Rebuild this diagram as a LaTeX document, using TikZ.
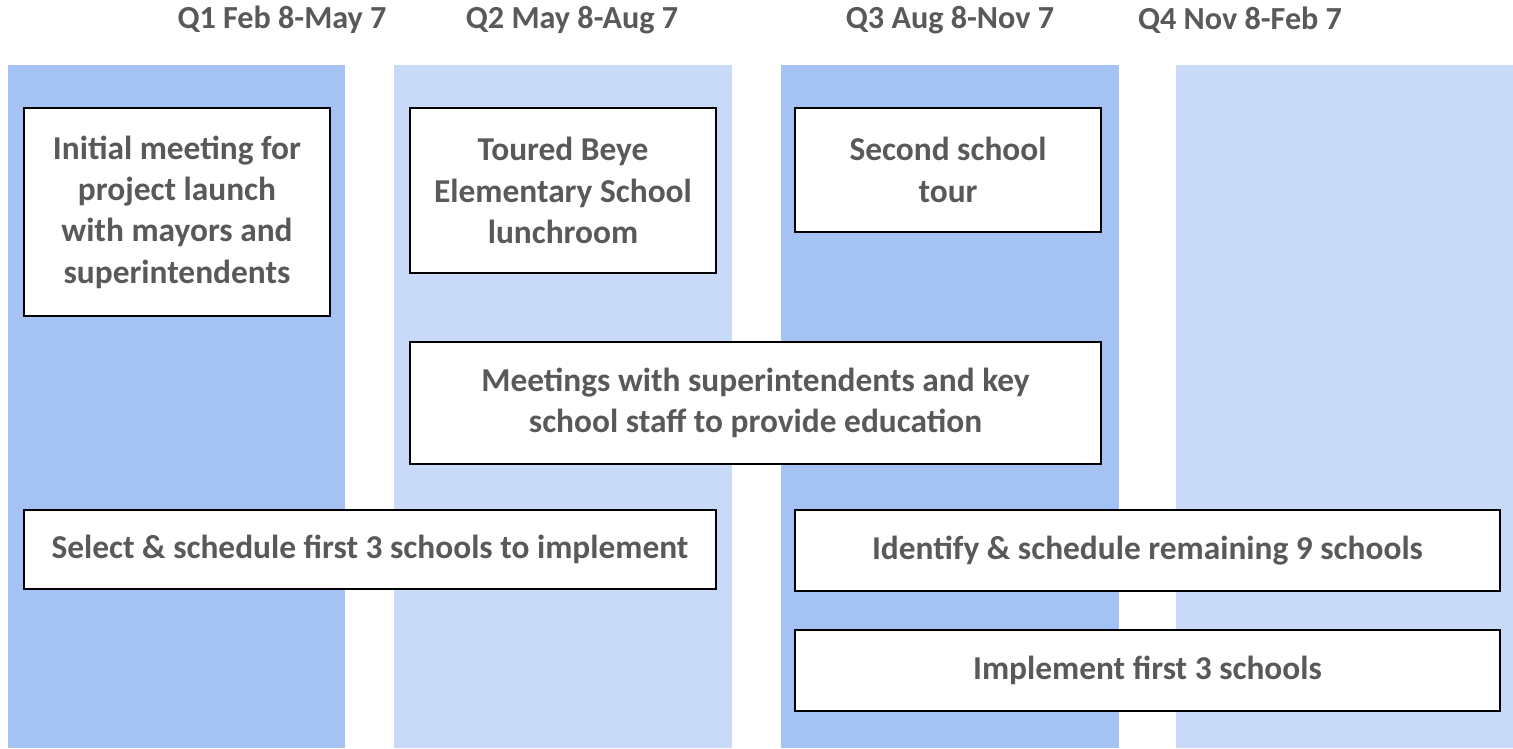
\documentclass[tikz,border=0pt]{standalone}
\usepackage{fontspec}
\setmainfont{Carlito}
\definecolor{qdark}{HTML}{A4C2F4}
\definecolor{qlight}{HTML}{C9DAF8}
\definecolor{txtgray}{HTML}{595959}

\begin{document}
\begin{tikzpicture}[x=0.02cm, y=-0.02cm, every node/.style={text=txtgray, font=\bfseries\fontsize{18.3}{23}\selectfont}, task/.style={draw=black, thick, fill=white, align=center, inner sep=0pt, font=\bfseries\fontsize{19}{23.5}\selectfont}]
        
        \useasboundingbox (0,0) rectangle (1513,748);
        
        \fill[qdark] (8,65) rectangle (345,748);
        \fill[qlight] (394,65) rectangle (732,748);
        \fill[qdark] (781,65) rectangle (1119,748);
        \fill[qlight] (1176,65) rectangle (1513,748);
        
        \node (q1) at (282,20) {Q1 Feb 8-May 7};
        \node (q2) at (572,20) {Q2 May 8-Aug 7};
        \node (q3) at (950,20) {Q3 Aug 8-Nov 7};
        \node (q4) at (1240,20) {Q4 Nov 8-Feb 7};
        
        \node[task, minimum width=6.12cm, minimum height=4.16cm] (launch) at (177,212) {Initial meeting for\\project launch\\with mayors and\\superintendents};
        \node[task, minimum width=6.12cm, minimum height=3.30cm] (tour1) at (563,190.5) {Toured Beye\\Elementary School\\lunchroom};
        \node[task, minimum width=6.12cm, minimum height=2.48cm] (tour2) at (948,170) {Second school\\tour};
        \node[task, minimum width=13.82cm, minimum height=2.44cm] (meet) at (755.5,403) {Meetings with superintendents and key\\school staff to provide education};
        \node[task, minimum width=13.84cm, minimum height=1.58cm] (select) at (370,549.5) {Select \& schedule first 3 schools to implement};
        \node[task, minimum width=14.10cm, minimum height=1.62cm] (ident) at (1147.5,550.5) {Identify \& schedule remaining 9 schools};
        \node[task, minimum width=14.10cm, minimum height=1.62cm] (impl) at (1147.5,670.5) {Implement first 3 schools};
        
\end{tikzpicture}
\end{document}
